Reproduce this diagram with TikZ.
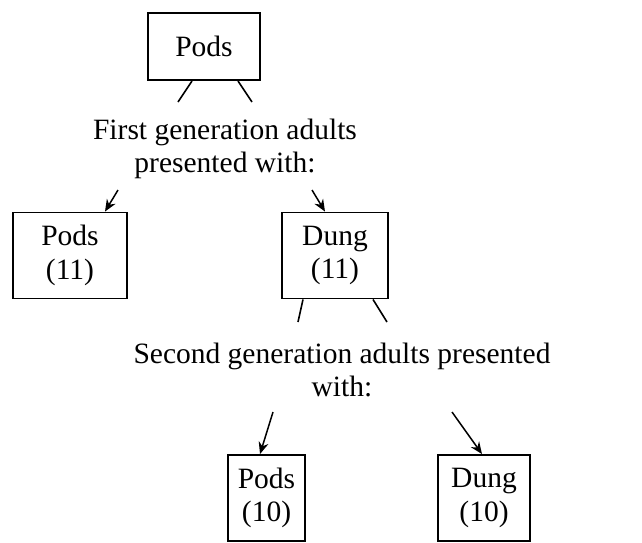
\documentclass[tikz,border=0pt]{standalone}
\usepackage{fontspec}
\setmainfont{Liberation Serif}
\usetikzlibrary{arrows.meta}

\begin{document}
\begin{tikzpicture}[
		x=1pt, y=-1pt,
		every node/.style={font=\fontsize{29.5}{33.5}\selectfont, align=center},
		box/.style={draw, line width=1.9pt, inner sep=0pt},
		feed/.style={-{Stealth[length=12pt,width=10pt]}, line width=1.5pt},
		leg/.style={line width=1.6pt}
	]
  \useasboundingbox (0,0) rectangle (642,542);
  \node (pods_top) [box, minimum width=112pt, minimum height=67pt] at (204,46.5) {Pods};
  \coordinate (t_l) at (178,102);
  \coordinate (t_r) at (252,102);
  \draw [leg] ([xshift=-12pt]pods_top.south) -- (t_l);
  \draw [leg] ([xshift=34pt]pods_top.south) -- (t_r);
  \node (gen_1) at (225,149) {First generation adults\\presented with:};
  \node (pods_1) [box, minimum width=114pt, minimum height=86pt] at (70,255.5) {Pods\\(11)};
  \node (dung_1) [box, minimum width=106pt, minimum height=86pt] at (335,255.5) {Dung\\(11)};
  \coordinate (a_l) at (118,190);
  \coordinate (a_r) at (312,190);
  \draw [feed] (a_l) -- ([xshift=35pt]pods_1.north);
  \draw [feed] (a_r) -- ([xshift=-10pt]dung_1.north);
  \coordinate (d_l) at (298,322);
  \coordinate (d_r) at (387,322);
  \draw [leg] ([xshift=-32pt]dung_1.south) -- (d_l);
  \draw [leg] ([xshift=38pt]dung_1.south) -- (d_r);
  \node (gen_2) at (342,370) {Second generation adults presented\\with:};
  \node (pods_2) [box, minimum width=77pt, minimum height=86pt] at (266.5,498) {Pods\\(10)};
  \node (dung_2) [box, minimum width=92pt, minimum height=86pt] at (484,498) {Dung\\(10)};
  \coordinate (b_l) at (273,412);
  \coordinate (b_r) at (452,412);
  \draw [feed] (b_l) -- ([xshift=-6.5pt]pods_2.north);
  \draw [feed] (b_r) -- ([xshift=-2pt]dung_2.north);
\end{tikzpicture}
\end{document}
